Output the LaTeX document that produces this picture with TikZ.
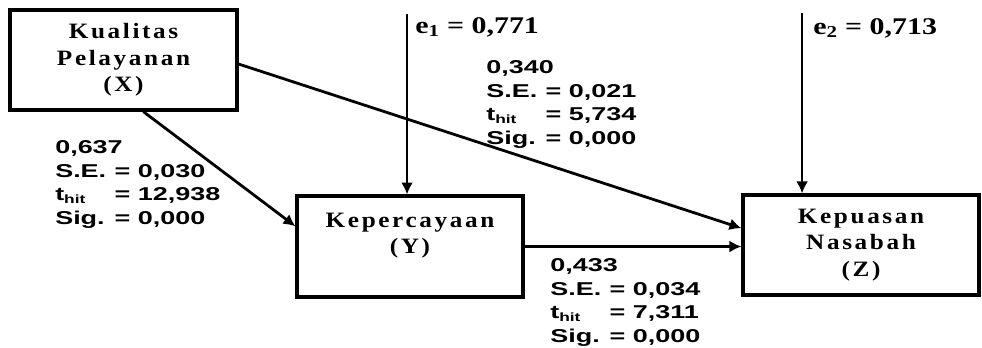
\documentclass[tikz,border=0pt]{standalone}
\usepackage{fontspec}
\newfontfamily\boxfont{Liberation Serif}[FakeStretch=1.15,LetterSpace=12]
\newfontfamily\errfont{Liberation Serif}[FakeStretch=1.25]
\newfontfamily\statfont{Liberation Sans}[FakeStretch=1.45]
\usetikzlibrary{arrows.meta,calc,positioning}

% path coefficient, standard error, t and significance
\newcommand{\pathstat}[4]{%
  \begin{tabular}{@{}l@{\hspace{0.45em}}l@{}}
    \multicolumn{2}{@{}l@{}}{#1}\\
    S.E. & = #2\\
    t\textsubscript{\fontsize{9}{9}\selectfont hit} & = #3\\
    Sig. & = #4
  \end{tabular}}

\begin{document}
\begin{tikzpicture}[>={Latex[length=9pt,width=9pt]},
  var/.style={draw,line width=2.4pt,align=center,
    font=\boxfont\bfseries\fontsize{16.5}{20}\selectfont},
  path/.style={->,line width=2.1pt},
  stat/.style={inner sep=0pt,anchor=north west,
    font=\statfont\bfseries\fontsize{14}{17.8}\selectfont},
  err/.style={inner sep=0pt,anchor=west,
    font=\errfont\bfseries\fontsize{18}{20}\selectfont}]
\useasboundingbox (0,0) rectangle (25.98,9.181);
\node[var,minimum width=6.006cm,minimum height=2.646cm] (kual) at (3.268,7.593) {Kualitas\\Pelayanan\\(X)};
\node[var,minimum width=5.98cm,minimum height=2.67cm] (perc) at (10.848,2.659) {Kepercayaan\\(Y)\\\mbox{}};
\node[var,minimum width=6.244cm,minimum height=2.646cm] (kep) at (22.780,2.699) {Kepuasan\\Nasabah\\(Z)};
% error terms
\coordinate (e1) at (10.769,8.81);
\coordinate (e2) at (21.22,8.837);
\draw[path] (e1) -- (e1 |- perc.north);
\draw[path] (e2) -- (e2 |- kep.north);
\node[err] (e1lab) at (10.98,8.467) {e\textsubscript{1} = 0,771};
\node[err] (e2lab) at (21.51,8.44) {e\textsubscript{2} = 0,713};
% paths
\draw[path] (kual.-69) -- (perc.170);
\draw[path] (kual.-2.5) -- (kep.172.7);
\draw[path] (perc.east) -- (perc.east -| kep.west);
\node[stat] (xy) at (1.455,5.564) {\pathstat{0,637}{0,030}{12,938}{0,000}};
\node[stat] (xz) at (12.859,7.681) {\pathstat{0,340}{0,021}{5,734}{0,000}};
\node[stat] (yz) at (14.552,2.442) {\pathstat{0,433}{0,034}{7,311}{0,000}};
\end{tikzpicture}
\end{document}
